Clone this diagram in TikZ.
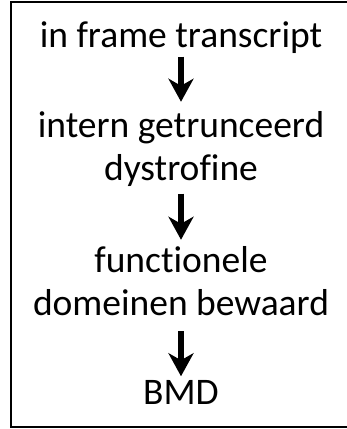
\documentclass[tikz,border=0pt]{standalone}
\usepackage{fontspec}
\setmainfont{Carlito}[Ligatures=NoCommon]
\usetikzlibrary{arrows.meta}

\begin{document}
\begin{tikzpicture}[x=1pt,y=-1pt,
    stap/.style={inner sep=0pt,align=center,anchor=base,
        font=\fontsize{37.5}{43}\selectfont},
    pijl/.style={line width=6pt,-{Stealth[length=23pt,width=25pt,inset=7pt]}}]
    \useasboundingbox (0,0) rectangle (347,429);
    \draw[line width=2pt] (11,1.7) rectangle (351,427);
    % the four steps (base = last line)
    \node[stap] (frame) at (181,47) {in frame transcript};
    \node[stap] (intern) at (181,180) {intern getrunceerd\\dystrofine};
    \node[stap] (domein) at (181,315) {functionele\\domeinen bewaard};
    \node[stap] (bmd) at (181,404) {BMD};
    % arrows between them
    \draw[pijl,shorten <=3.5pt,shorten >=9pt] (frame) -- (intern);
    \draw[pijl,shorten <=7.5pt,shorten >=6pt] (intern) -- (domein);
    \draw[pijl,shorten <=16pt,shorten >=3.5pt] (domein) -- (bmd);
\end{tikzpicture}
\end{document}
